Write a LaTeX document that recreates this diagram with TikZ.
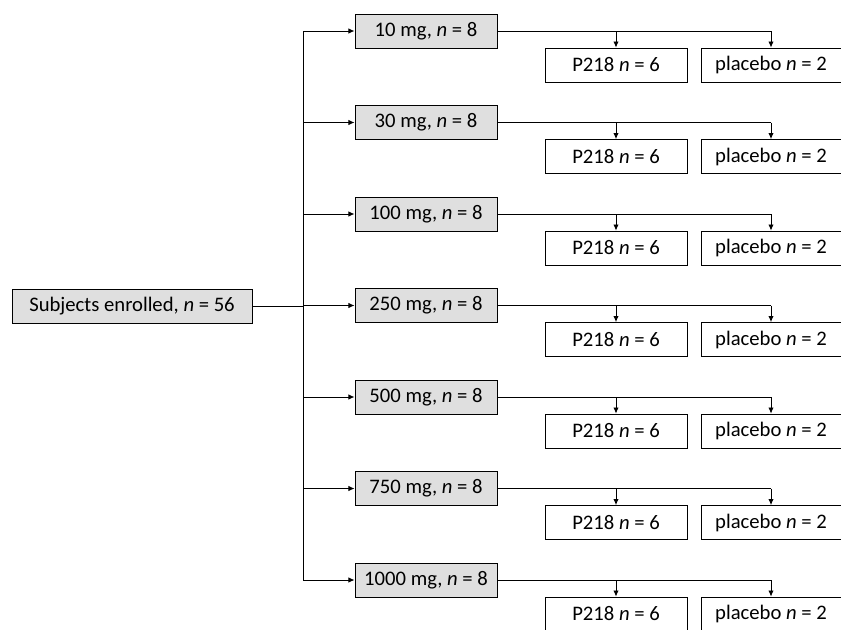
\documentclass[tikz,border=0pt]{standalone}
\usepackage{fontspec}
\setmainfont{Carlito}
\usetikzlibrary{arrows.meta,positioning}
\begin{document}
\begin{tikzpicture}[
  x=0.75pt, y=-0.75pt,
  dose/.style={draw, fill=gray!25, line width=0.7pt, inner sep=2pt,
    minimum width=106.5pt, minimum height=25.5pt, font=\fontsize{15.5}{17}\selectfont},
  arm/.style={draw, fill=white, line width=0.6pt, inner sep=2pt,
    minimum width=106.5pt, minimum height=25.5pt, font=\fontsize{15.5}{17}\selectfont},
  arrow/.style={-{Latex[length=1.6mm,width=1.4mm]}, line width=0.65pt},
  link/.style={line width=0.65pt}
]
\useasboundingbox (0,0) rectangle (841,629);
\node[dose, minimum width=180pt] (subj) at (132,306) {Subjects enrolled, \textit{n} = 56};
\coordinate (split) at (303,306);
\foreach \d/\y [count=\i] in {10/31,30/122.5,100/214,250/305.5,500/397,750/488.5,1000/580} {
  \node[dose] (d\i) at (426,\y) {\d~mg, \textit{n} = 8};
  \node[arm] (p\i) at (616,\y+34) {P218 \textit{n} = 6};
  \node[arm, minimum width=105pt] (pl\i) at (771,\y+34) {placebo \textit{n} = 2};
  \draw[arrow] (d\i.west -| split) -- (d\i.west);
  \draw[link] (d\i.east) -- (pl\i.north |- d\i.east);
  \draw[arrow] (p\i.north |- d\i.east) -- (p\i.north);
  \draw[arrow] (pl\i.north |- d\i.east) -- (pl\i.north);
}
\draw[link] (d1.west -| split) -- (d7.west -| split);
\draw[link] (subj) -- (split);
\end{tikzpicture}
\end{document}
